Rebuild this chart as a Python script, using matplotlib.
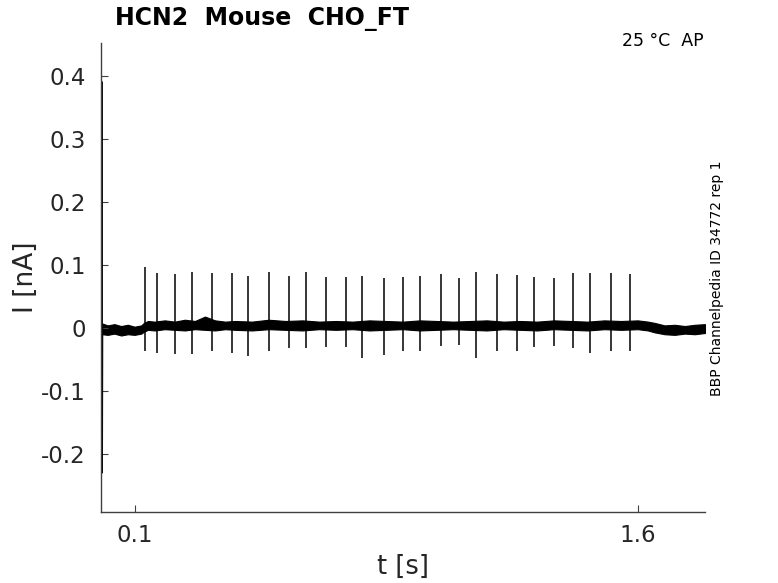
import matplotlib
matplotlib.use('Agg')
import matplotlib.pyplot as plt


# spike artifacts of the AP protocol
spike_t = [0.130, 0.166, 0.222, 0.272, 0.332, 0.389, 0.439, 0.502, 0.560,
           0.612, 0.672, 0.729, 0.779, 0.842, 0.901, 0.952, 1.012, 1.068,
           1.119, 1.181, 1.240, 1.292, 1.351, 1.407, 1.458, 1.520, 1.578]
spike_peak = [0.097, 0.087, 0.086, 0.088, 0.087, 0.087, 0.083, 0.089, 0.083,
              0.088, 0.081, 0.081, 0.083, 0.079, 0.081, 0.083, 0.085, 0.079,
              0.088, 0.085, 0.084, 0.081, 0.079, 0.087, 0.087, 0.087, 0.086]
spike_trough = [-0.037, -0.039, -0.041, -0.041, -0.036, -0.039, -0.045,
                -0.036, -0.032, -0.032, -0.030, -0.030, -0.048, -0.043,
                -0.037, -0.037, -0.028, -0.027, -0.048, -0.037, -0.036,
                -0.030, -0.029, -0.032, -0.040, -0.037, -0.037]

# capacitive transient at the start
start_t = [0.004, 0.004, 0.005]
start_i = [0.39, -0.23, 0.0]

# noise band of the baseline (upper / lower edge)
band_t = [0.004, 0.02, 0.04, 0.06, 0.08, 0.10, 0.12, 0.128, 0.14, 0.16,
          0.19, 0.22, 0.25, 0.28, 0.31, 0.34, 0.37, 0.40, 0.45, 0.50,
          0.55, 0.60, 0.65, 0.70, 0.75, 0.80, 0.85, 0.90, 0.95, 1.00,
          1.05, 1.10, 1.15, 1.20, 1.25, 1.30, 1.35, 1.40, 1.45, 1.50,
          1.55, 1.60, 1.63, 1.65, 1.68, 1.71, 1.74, 1.77, 1.80]
band_hi = [0.007, 0.004, 0.006, 0.003, 0.005, 0.002, 0.004, 0.008, 0.011,
           0.010, 0.012, 0.010, 0.013, 0.011, 0.018, 0.012, 0.010, 0.011,
           0.010, 0.013, 0.011, 0.012, 0.010, 0.011, 0.010, 0.012, 0.011,
           0.010, 0.012, 0.011, 0.010, 0.011, 0.012, 0.010, 0.011, 0.010,
           0.012, 0.011, 0.010, 0.012, 0.011, 0.012, 0.010, 0.008, 0.004,
           0.005, 0.003, 0.005, 0.006]
band_lo = [-0.010, -0.011, -0.009, -0.012, -0.010, -0.011, -0.009, -0.006,
           -0.003, -0.004, -0.002, -0.003, -0.004, -0.002, -0.003, -0.004,
           -0.002, -0.003, -0.004, -0.002, -0.003, -0.004, -0.002, -0.003,
           -0.002, -0.004, -0.003, -0.002, -0.004, -0.003, -0.002, -0.003,
           -0.004, -0.002, -0.003, -0.004, -0.002, -0.003, -0.004, -0.002,
           -0.003, -0.002, -0.004, -0.007, -0.010, -0.011, -0.009, -0.010,
           -0.008]

xticks = [0.1, 1.6]
yticks = [-0.2, -0.1, 0, 0.1, 0.2, 0.3, 0.4]
ytick_labels = ['-0.2', '-0.1', '0', '0.1', '0.2', '0.3', '0.4']

spine_col = '#404040'
text_col = '#262626'

fig = plt.figure(figsize=(7.78, 5.83), dpi=100)
ax = fig.add_axes([0.1298, 0.1218, 0.7763, 0.8044])

ax.fill_between(band_t, band_lo, band_hi, color='black', linewidth=0.8)
ax.vlines(spike_t, spike_trough, spike_peak, color='black', linewidth=1.1)
ax.plot(start_t, start_i, color='black', linewidth=0.9)

ax.set_xlim(0, 1.8)
ax.set_ylim(-0.292, 0.452)
ax.set_xticks(xticks)
ax.set_xticklabels(['0.1', '1.6'])
ax.set_yticks(yticks)
ax.set_yticklabels(ytick_labels)

for side in ['top', 'right']:
    ax.spines[side].set_visible(False)
for side in ['left', 'bottom']:
    ax.spines[side].set_color(spine_col)
    ax.spines[side].set_linewidth(1.0)

ax.tick_params(direction='in', length=5, width=0.8, color=spine_col,
               labelsize=16.5, labelcolor=text_col)
ax.tick_params(axis='y', pad=11)
ax.tick_params(axis='x', pad=9)
ax.set_xlabel('t [s]', fontsize=18.5, color=text_col, labelpad=5)
ax.set_ylabel('I [nA]', fontsize=19, color=text_col)
ax.yaxis.set_label_coords(-0.102, 0.5)

fig.text(0.148, 0.968, 'HCN2  Mouse  CHO_FT', fontsize=17, weight='bold',
         ha='left', va='center')
fig.text(0.904, 0.930, '25 °C  AP', fontsize=12.5, ha='right', va='center')
fig.text(0.921, 0.523, 'BBP Channelpedia ID 34772 rep 1', fontsize=10,
         rotation=90, ha='center', va='center')

fig.savefig('out.png', dpi=100)
